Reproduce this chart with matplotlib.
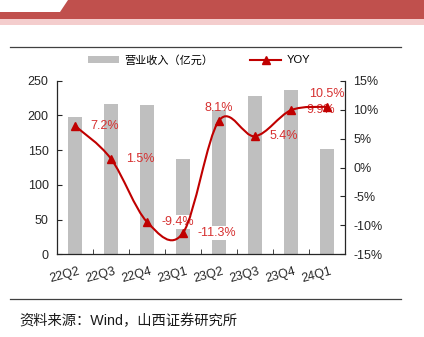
import matplotlib
matplotlib.use('Agg')
import matplotlib.pyplot as plt
import matplotlib.transforms as mtrans
from matplotlib.path import Path
from matplotlib.patches import PathPatch, Polygon, Patch
from matplotlib.lines import Line2D
import numpy as np

plt.rcParams['font.family'] = ['Liberation Sans', 'Noto Sans CJK SC']
plt.rcParams['axes.unicode_minus'] = False

#------------------------------------------------------------------------------#

quarters = ['22Q2', '22Q3', '22Q4', '23Q1', '23Q2', '23Q3', '23Q4', '24Q1']
revenue = [198, 216, 215, 137, 208, 228, 236, 152]
yoy = [7.2, 1.5, -9.4, -11.3, 8.1, 5.4, 9.9, 10.5]

# label placement / white background per point (styling only)
label_pos = ['right', 'right', 'right', 'right', 'above', 'right', 'right', 'above']
label_box = [False, False, True, True, False, False, False, False]

bar_color = '#BFBFBF'
line_color = '#C00000'
text_red = '#D63030'
axis_color = '#262626'

W, H = 424, 337

def fx(px):
    return px / W

def fy(py):
    return 1 - py / H

#------------------------------------------------------------------------------#

def smooth_path(xs, ys):
    # catmull-rom like excel "smoothed line"
    n = len(xs)
    verts = [(xs[0], ys[0])]
    codes = [Path.MOVETO]
    for i in range(n - 1):
        a = i - 1 if i > 0 else i
        b = i + 2 if i + 2 < n else i + 1
        c1 = (xs[i] + (xs[i+1] - xs[a]) / 6, ys[i] + (ys[i+1] - ys[a]) / 6)
        c2 = (xs[i+1] - (xs[b] - xs[i]) / 6, ys[i+1] - (ys[b] - ys[i]) / 6)
        verts += [c1, c2, (xs[i+1], ys[i+1])]
        codes += [Path.CURVE4] * 3
    return Path(verts, codes)

#------------------------------------------------------------------------------#

fig = plt.figure(figsize=(W / 100, H / 100), dpi=100)

# header banner
fig.patches.append(Polygon([(fx(0), fy(12)), (fx(60), fy(12)), (fx(68), fy(0)),
                            (fx(424), fy(0)), (fx(424), fy(19)), (fx(0), fy(19))],
                           closed=True, transform=fig.transFigure,
                           facecolor='#C0504D', edgecolor='none'))
fig.patches.append(Polygon([(fx(0), fy(19)), (fx(424), fy(19)),
                            (fx(424), fy(25)), (fx(0), fy(25))],
                           closed=True, transform=fig.transFigure,
                           facecolor='#F4CDCD', edgecolor='none'))

# separator lines
for yy in [47, 299]:
    fig.add_artist(Line2D([fx(10), fx(401)], [fy(yy), fy(yy)],
                          transform=fig.transFigure, color='#404040', lw=0.9))

ax = fig.add_axes([fx(57), fy(254.3), fx(345) - fx(57), fy(80.7) - fy(254.3)])
ax2 = ax.twinx()

x = np.arange(len(quarters))
ax.bar(x, revenue, width=0.4, color=bar_color, zorder=1)
ax.set_xlim(-0.5, len(quarters) - 0.5)
ax.set_ylim(0, 250)
ax.set_yticks(np.arange(0, 251, 50))

ax.set_xticks(x)
ax.set_xticklabels(quarters, rotation=15, ha='right', rotation_mode='anchor',
                   fontsize=9, color=axis_color)
ax.set_xticks(np.arange(0.5, len(quarters) - 0.5, 1), minor=True)
ax.tick_params(axis='x', which='major', length=0, pad=8)
ax.tick_params(axis='x', which='minor', direction='in', length=3.5,
               color=axis_color)
for lbl in ax.get_xticklabels():
    lbl.set_transform(lbl.get_transform() +
                      mtrans.ScaledTranslation(3 / 100, 0, fig.dpi_scale_trans))

ax.tick_params(axis='y', direction='in', length=3.5, pad=6, labelsize=9,
               colors=axis_color)

ax2.set_ylim(-15, 15)
ax2.set_yticks(np.arange(-15, 16, 5))
ax2.set_yticklabels([f'{v}%' for v in range(-15, 16, 5)])
ax2.tick_params(axis='y', direction='in', length=3.5, pad=6, labelsize=9,
                colors=axis_color)

for a in [ax, ax2]:
    a.spines['top'].set_visible(False)
    for s in ['left', 'right', 'bottom']:
        a.spines[s].set_color(axis_color)
        a.spines[s].set_linewidth(0.9)
ax2.spines['left'].set_visible(False)
ax2.spines['bottom'].set_visible(False)
ax.spines['right'].set_visible(False)

ax2.add_patch(PathPatch(smooth_path(x, yoy), facecolor='none',
                        edgecolor=line_color, lw=1.5, zorder=3))
ax2.plot(x, yoy, ls='none', marker='^', ms=6, color=line_color, zorder=4)

for xi, v, pos, boxed in zip(x, yoy, label_pos, label_box):
    if pos == 'above':
        off, ha = (0, 13), 'center'
    else:
        off, ha = (15, 0), 'left'
    bb = dict(boxstyle='square,pad=0.05', fc='white', ec='none') if boxed else None
    ax2.annotate(f'{v}%', (xi, v), xytext=off, textcoords='offset pixels',
                 ha=ha, va='center', fontsize=9, color=text_red, zorder=2.5,
                 bbox=bb)

handles = [Patch(facecolor=bar_color, edgecolor='none'),
           Line2D([], [], color=line_color, lw=1.5, marker='^', ms=6)]
fig.legend(handles, ['营业收入（亿元）', 'YOY'], loc='center',
           bbox_to_anchor=(fx(199), fy(60)), ncol=2, frameon=False,
           fontsize=8, handlelength=2.8, handletextpad=0.5,
           columnspacing=3.3, handleheight=0.6)

fig.text(fx(19), fy(321), '资料来源：Wind，山西证券研究所', fontsize=10.3,
         color='#1a1a1a', ha='left', va='center')

fig.savefig('out.png', dpi=100)
